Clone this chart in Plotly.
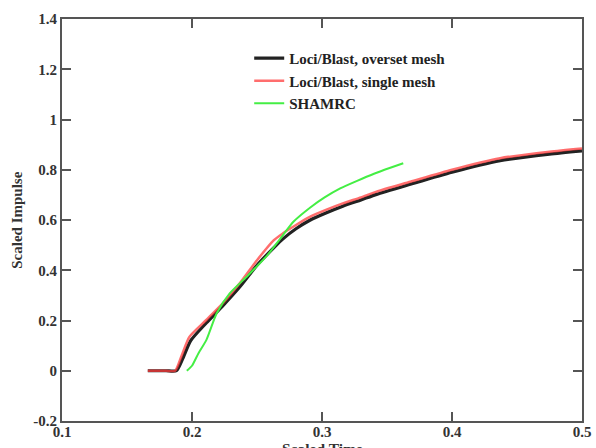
import plotly.graph_objects as go

# Data
t_overset = [0.166, 0.180, 0.188, 0.193, 0.199, 0.211, 0.224, 0.237, 0.250, 0.263, 0.270, 0.280, 0.291, 0.303, 0.316, 0.330, 0.342, 0.368, 0.400, 0.437, 0.475, 0.500]
y_overset = [0.0, 0.0, 0.0, 0.05, 0.12, 0.19, 0.26, 0.335, 0.42, 0.49, 0.525, 0.565, 0.60, 0.628, 0.655, 0.68, 0.702, 0.742, 0.79, 0.836, 0.862, 0.875]

t_single = [0.166, 0.180, 0.187, 0.192, 0.198, 0.211, 0.224, 0.237, 0.250, 0.263, 0.270, 0.280, 0.291, 0.303, 0.316, 0.330, 0.342, 0.368, 0.400, 0.437, 0.475, 0.500]
y_single = [0.0, 0.0, 0.0, 0.06, 0.135, 0.202, 0.27, 0.35, 0.44, 0.52, 0.547, 0.58, 0.613, 0.64, 0.666, 0.69, 0.713, 0.752, 0.80, 0.846, 0.872, 0.885]

t_shamrc = [0.196, 0.200, 0.205, 0.211, 0.219, 0.229, 0.242, 0.257, 0.270, 0.278, 0.291, 0.302, 0.314, 0.327, 0.340, 0.352, 0.3625]
y_shamrc = [0.0, 0.02, 0.07, 0.122, 0.229, 0.308, 0.374, 0.454, 0.54, 0.593, 0.650, 0.690, 0.726, 0.756, 0.784, 0.807, 0.826]

x_ticks = [0.1, 0.2, 0.3, 0.4, 0.5]
x_ticklabels = ["0.1", "0.2", "0.3", "0.4", "0.5"]
y_ticks = [-0.2, 0, 0.2, 0.4, 0.6, 0.8, 1.0, 1.2, 1.4]
y_ticklabels = ["-0.2", "0", "0.2", "0.4", "0.6", "0.8", "1", "1.2", "1.4"]

x_title = "Scaled Time"
y_title = "Scaled Impulse"

FONT = "Liberation Serif"

fig = go.Figure()
fig.add_trace(go.Scatter(x=t_overset, y=y_overset, mode="lines", name="Loci/Blast, overset mesh",
                         line=dict(color="#222222", width=3.2, shape="spline", smoothing=0.6)))
fig.add_trace(go.Scatter(x=t_single, y=y_single, mode="lines", name="Loci/Blast, single mesh",
                         line=dict(color="rgba(255,60,60,0.75)", width=2.5, shape="spline", smoothing=0.6)))
fig.add_trace(go.Scatter(x=t_shamrc, y=y_shamrc, mode="lines", name="SHAMRC",
                         line=dict(color="#44ee44", width=2, shape="spline", smoothing=0.6)))

axis_common = dict(showgrid=False, zeroline=False, showline=True, linecolor="#555555", linewidth=2,
                   mirror="ticks", ticks="inside", ticklen=9, tickwidth=1.5, tickcolor="#555555",
                   tickfont=dict(family=FONT, size=15, color="#333333", weight="bold"))

fig.update_xaxes(range=[0.1, 0.5], tickvals=x_ticks, ticktext=x_ticklabels, ticklabelstandoff=-4,
                 **axis_common)
fig.update_yaxes(range=[-0.2, 1.4], tickvals=y_ticks, ticktext=y_ticklabels,
                 **axis_common)

fig.add_annotation(text=x_title, xref="paper", yref="paper", x=0.5, y=-0.043,
                   xanchor="center", yanchor="top", showarrow=False,
                   font=dict(family=FONT, size=15.5, color="#333333", weight="bold"))
fig.add_annotation(text=y_title, xref="paper", yref="paper", x=-0.087, y=0.5,
                   xanchor="center", yanchor="middle", textangle=-90, showarrow=False,
                   font=dict(family=FONT, size=15, color="#333333", weight="bold"))

fig.update_layout(
    width=596, height=448,
    margin=dict(l=62, r=14, t=19, b=27, autoexpand=False),
    paper_bgcolor="white", plot_bgcolor="white",
    legend=dict(x=0.36, y=0.943, xanchor="left", yanchor="top", bgcolor="rgba(0,0,0,0)",
                font=dict(family=FONT, size=15, color="#222222", weight="bold"),
                tracegroupgap=0, itemwidth=30),
)

fig.write_html("out.html", config={"displayModeBar": False},
               post_script="document.body.style.margin='0';document.body.style.overflow='hidden';")
